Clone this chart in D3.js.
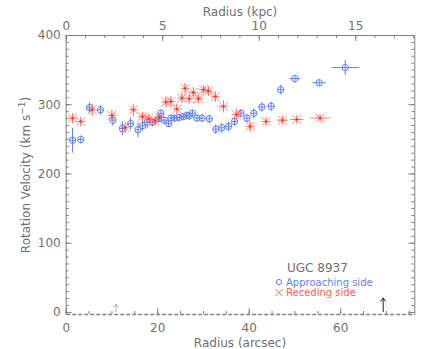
<!DOCTYPE html>
<meta charset="utf-8">
<head>
    <title>UGC 8937 rotation curve</title>
    <script src="https://cdn.jsdelivr.net/npm/d3@7"></script>
</head>

<style>
    body { margin: 0; background: #fff; }
    text { font-family: "DejaVu Sans", sans-serif; fill: #707070; }
    .axis path, .axis line { stroke: #808080; stroke-width: 1; }
    .axis text { font-size: 12px; fill: #707070; }
</style>

<svg></svg>

<script>
    var vWidth = 436;
    var vHeight = 349;

    // approaching side (blue circles)
    var appR = [1.5, 3.3, 5.2, 7.6, 10.3, 12.4, 14.2, 15.8, 16.8, 17.8, 19.0, 20.3, 20.8, 21.5, 22.5, 23.0, 23.8, 24.8, 25.7, 26.5,
        27.0, 27.7, 28.7, 29.8, 31.4, 32.8, 34.1, 35.6, 36.9, 38.3, 39.6, 41.1, 42.9, 44.9, 47.0, 50.1, 55.4, 61.1];
    var appV = [248, 249, 295, 292, 277, 265, 272, 263, 269, 274, 274, 279, 287, 277, 272, 280, 280, 281, 282, 284,
        283, 287, 280, 280, 279, 264, 266, 268, 275, 287, 280, 287, 296, 297, 321, 337, 331, 353];
    var appVerr = [18, 6, 8, 7, 8, 10, 9, 11, 7, 9, 6, 5, 5, 6, 5, 5, 5, 5, 5, 5,
        5, 5, 5, 6, 6, 7, 7, 7, 6, 6, 6, 7, 7, 7, 7, 6, 5, 11];
    var appRerr = [0.6, 0.6, 0.6, 0.6, 0.6, 0.6, 0.6, 0.6, 0.6, 0.6, 0.6, 0.6, 0.6, 0.6, 0.6, 0.6, 0.6, 0.6, 0.6, 0.6,
        0.6, 0.6, 0.6, 0.6, 0.6, 0.6, 0.6, 0.6, 0.6, 0.6, 0.6, 0.6, 0.7, 0.7, 0.7, 1.2, 1.5, 3.0];

    // receding side (red asterisks)
    var recR = [1.5, 3.3, 5.8, 10.1, 13.0, 14.8, 16.8, 18.2, 19.5, 20.5, 21.9, 23.0, 24.3, 25.4, 26.1, 27.0, 27.9, 29.0,
        30.1, 31.2, 32.7, 34.5, 37.3, 40.3, 43.8, 47.4, 50.5, 55.6];
    var recV = [280, 275, 292, 284, 266, 292, 282, 279, 276, 281, 303, 304, 293, 309, 323, 308, 317, 308,
        321, 319, 311, 297, 285, 268, 275, 277, 278, 280];
    var recVerr = [7, 6, 9, 8, 8, 9, 7, 7, 6, 6, 8, 8, 8, 7, 8, 7, 8, 7,
        7, 7, 8, 9, 10, 8, 5, 4, 4, 4];
    var recRerr = [0.6, 0.6, 0.6, 0.6, 0.6, 0.6, 0.6, 0.6, 0.6, 0.6, 0.6, 0.6, 0.6, 0.6, 0.6, 0.6, 0.6, 0.6,
        0.6, 0.6, 0.6, 0.6, 0.6, 0.6, 0.8, 1.2, 1.5, 2.2];

    // arrows along the bottom (arcsec)
    var arrowR = [11.0, 69.4];

    var bottomTicks = [0, 20, 40, 60];
    var topTicks = [0, 5, 10, 15];
    var yTicks = [0, 100, 200, 300, 400];

    var blue = '#5f80f8';
    var red = '#ff6050';

    var svg = d3.select('svg').attr('width', vWidth).attr('height', vHeight);

    // scales
    var x = d3.scaleLinear().domain([0, 76.2]).range([65.7, 414.3]);
    var xk = d3.scaleLinear().domain([0, 18.06]).range([65.7, 414.3]);
    var y = d3.scaleLinear().domain([-3, 400]).range([314, 35]);

    // axes: IDL style, ticks pointing inward
    var gBottom = svg.append('g').attr('class', 'axis').attr('transform', 'translate(0,314)');
    gBottom.call(d3.axisBottom(x).tickValues(d3.range(0, 76, 5)).tickSize(-3).tickFormat('').tickSizeOuter(0));
    gBottom.select('.domain').attr('stroke-dasharray', '4,2').style('stroke-width', 1.5);
    gBottom.append('g').call(d3.axisBottom(x).tickValues(bottomTicks).tickSize(-6).tickPadding(9).tickSizeOuter(0))
        .select('.domain').remove();

    var gTop = svg.append('g').attr('class', 'axis').attr('transform', 'translate(0,35)');
    gTop.call(d3.axisTop(xk).tickValues(d3.range(0, 19, 1)).tickSize(-3).tickFormat('').tickSizeOuter(0));
    gTop.append('g').call(d3.axisTop(xk).tickValues(topTicks).tickSize(-6).tickPadding(5).tickSizeOuter(0))
        .select('.domain').remove();

    var gLeft = svg.append('g').attr('class', 'axis').attr('transform', 'translate(65.7,0)');
    gLeft.call(d3.axisLeft(y).tickValues(d3.range(0, 401, 10)).tickSize(-3).tickFormat('').tickSizeOuter(0));
    gLeft.append('g').call(d3.axisLeft(y).tickValues(yTicks).tickSize(-6).tickPadding(5).tickSizeOuter(0))
        .select('.domain').remove();

    var gRight = svg.append('g').attr('class', 'axis').attr('transform', 'translate(414.3,0)');
    gRight.call(d3.axisRight(y).tickValues(d3.range(0, 401, 10)).tickSize(-3).tickFormat('').tickSizeOuter(0));
    gRight.append('g').call(d3.axisRight(y).tickValues(yTicks).tickSize(-6).tickFormat('').tickSizeOuter(0))
        .select('.domain').remove();

    // axis titles
    svg.append('text').attr('x', 240).attr('y', 16).attr('text-anchor', 'middle')
        .style('font-size', '12px').text('Radius (kpc)');
    svg.append('text').attr('x', 240).attr('y', 347).attr('text-anchor', 'middle')
        .style('font-size', '12px').text('Radius (arcsec)');
    var yt = svg.append('text').attr('transform', 'translate(30,175) rotate(-90)').attr('text-anchor', 'middle')
        .style('font-size', '12px');
    yt.append('tspan').text('Rotation Velocity (km s');
    yt.append('tspan').attr('dy', -5).style('font-size', '9px').text('\u22121');
    yt.append('tspan').attr('dy', 5).text(')');

    var plot = svg.append('g');

    // approaching side
    var app = appR.map(function (r, i) { return {r: r, v: appV[i], ve: appVerr[i], re: appRerr[i]}; });
    var ga = plot.selectAll('g.app').data(app).enter().append('g').attr('class', 'app')
        .attr('stroke', blue).attr('fill', 'none').attr('stroke-width', 1);
    ga.append('line').attr('x1', function (d) { return x(d.r); }).attr('x2', function (d) { return x(d.r); })
        .attr('y1', function (d) { return y(d.v - d.ve); }).attr('y2', function (d) { return y(d.v + d.ve); });
    ga.append('line').attr('y1', function (d) { return y(d.v); }).attr('y2', function (d) { return y(d.v); })
        .attr('x1', function (d) { return x(d.r - d.re); }).attr('x2', function (d) { return x(d.r + d.re); });
    ga.append('circle').attr('cx', function (d) { return x(d.r); }).attr('cy', function (d) { return y(d.v); })
        .attr('r', 3.2);

    // receding side
    var rec = recR.map(function (r, i) { return {r: r, v: recV[i], ve: recVerr[i], re: recRerr[i]}; });
    var gr = plot.selectAll('g.rec').data(rec).enter().append('g').attr('class', 'rec')
        .attr('stroke', red).attr('stroke-opacity', 0.75).attr('stroke-width', 1);
    gr.append('line').attr('x1', function (d) { return x(d.r); }).attr('x2', function (d) { return x(d.r); })
        .attr('y1', function (d) { return y(d.v - d.ve); }).attr('y2', function (d) { return y(d.v + d.ve); });
    gr.append('line').attr('y1', function (d) { return y(d.v); }).attr('y2', function (d) { return y(d.v); })
        .attr('x1', function (d) { return x(d.r - d.re); }).attr('x2', function (d) { return x(d.r + d.re); });
    gr.append('path').attr('d', function (d) {
        var cx = x(d.r), cy = y(d.v), s = 4.5;
        return 'M' + (cx - s) + ',' + cy + 'H' + (cx + s) +
            'M' + cx + ',' + (cy - s) + 'V' + (cy + s) +
            'M' + (cx - s) + ',' + (cy - s) + 'L' + (cx + s) + ',' + (cy + s) +
            'M' + (cx - s) + ',' + (cy + s) + 'L' + (cx + s) + ',' + (cy - s);
    });
    gr.append('circle').attr('cx', function (d) { return x(d.r); }).attr('cy', function (d) { return y(d.v); })
        .attr('r', 1).attr('fill', '#e02818').attr('stroke', 'none');

    // arrows
    var arrowCol = ['#b0b0b0', '#222'];
    var arrowLen = [8, 14];
    arrowR.forEach(function (r, i) {
        var ax = x(r), y0 = 312, y1 = 312 - arrowLen[i];
        svg.append('path')
            .attr('d', 'M' + ax + ',' + y0 + 'V' + y1 + 'M' + (ax - 2.5) + ',' + (y1 + 3.5) + 'L' + ax + ',' + y1 + 'L' + (ax + 2.5) + ',' + (y1 + 3.5))
            .attr('fill', 'none').attr('stroke', arrowCol[i]);
    });

    // legend
    svg.append('text').attr('x', 287).attr('y', 272).style('font-size', '12px').style('fill', '#707070').text('UGC 8937');
    svg.append('circle').attr('cx', 279).attr('cy', 282).attr('r', 2.6).attr('fill', 'none').attr('stroke', blue);
    svg.append('text').attr('x', 286).attr('y', 285.5).style('font-size', '10px').style('fill', blue).text('Approaching side');
    svg.append('path').attr('d', 'M275.5,289L282.5,296M275.5,296L282.5,289').attr('stroke', red).attr('fill', 'none');
    svg.append('text').attr('x', 286).attr('y', 296).style('font-size', '10px').style('fill', red).text('Receding side');
</script>
